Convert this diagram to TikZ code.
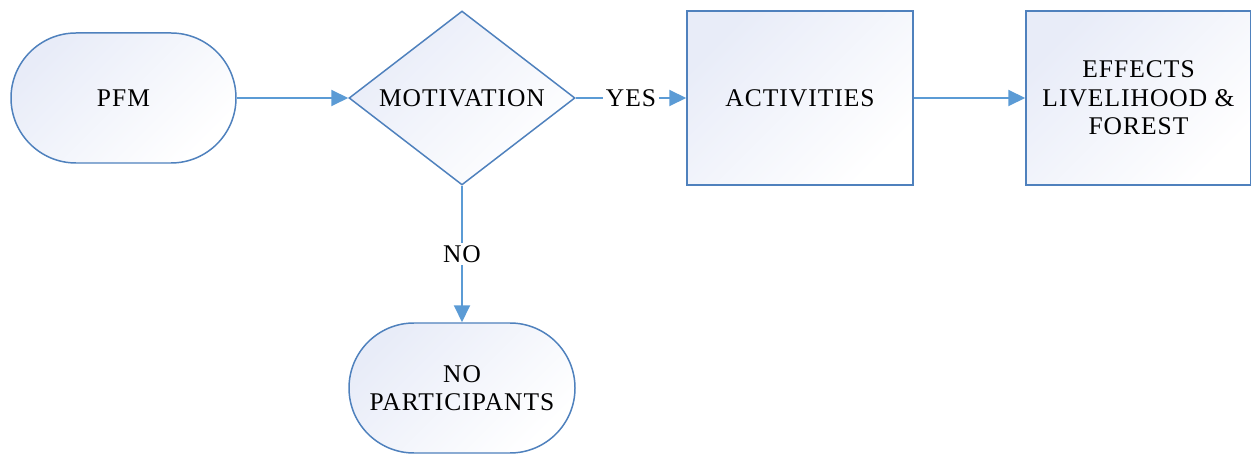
\documentclass[tikz,border=0pt]{standalone}
\usepackage{fontspec}
\setmainfont{Liberation Serif}[LetterSpace=4]
\usetikzlibrary{arrows.meta,shapes.geometric}
\definecolor{edgeblue}{HTML}{4F81BD}
\definecolor{arrblue}{HTML}{5B9BD5}
\definecolor{shadeblue}{HTML}{E8ECF8}

\begin{document}
\begin{tikzpicture}[font=\fontsize{14.5}{16.2}\selectfont,
  >={Triangle[length=3.4mm, width=3.2mm]},
  box/.style={draw=edgeblue, line width=0.85pt, top color=shadeblue, bottom color=white,
    shading angle=45, align=center, inner sep=0pt},
  term/.style={box, rectangle, rounded corners=1.3cm, minimum width=4.5cm, minimum height=2.6cm},
  dec/.style={box, diamond, aspect=1.3, minimum width=4.52cm, minimum height=3.48cm},
  proc/.style={box, rectangle, minimum width=4.52cm, minimum height=3.48cm},
  arr/.style={->, draw=arrblue, line width=1.1pt},
  lbl/.style={fill=white, inner sep=1.5pt}]
  \useasboundingbox (0,0) rectangle (25.02,9.06);
  \node[term] (PFM) at (2.47,7.10) {PFM};
  \node[dec] (MOT) at (9.24,7.10) {MOTIVATION};
  \node[proc] (ACT) at (16.00,7.10) {ACTIVITIES};
  \node[proc, minimum width=4.5cm] (EFF) at (22.77,7.10) {EFFECTS\\LIVELIHOOD \&\\FOREST};
  \node[term, minimum width=4.52cm] (NOP) at (9.24,1.30) {NO\\PARTICIPANTS};

  \draw[arr] (PFM) -- (MOT);
  \draw[arr] (MOT) -- node[lbl] {YES} (ACT);
  \draw[arr] (ACT) -- (EFF);
  \draw[arr] (MOT) -- node[lbl] {NO} (NOP);
\end{tikzpicture}
\end{document}
